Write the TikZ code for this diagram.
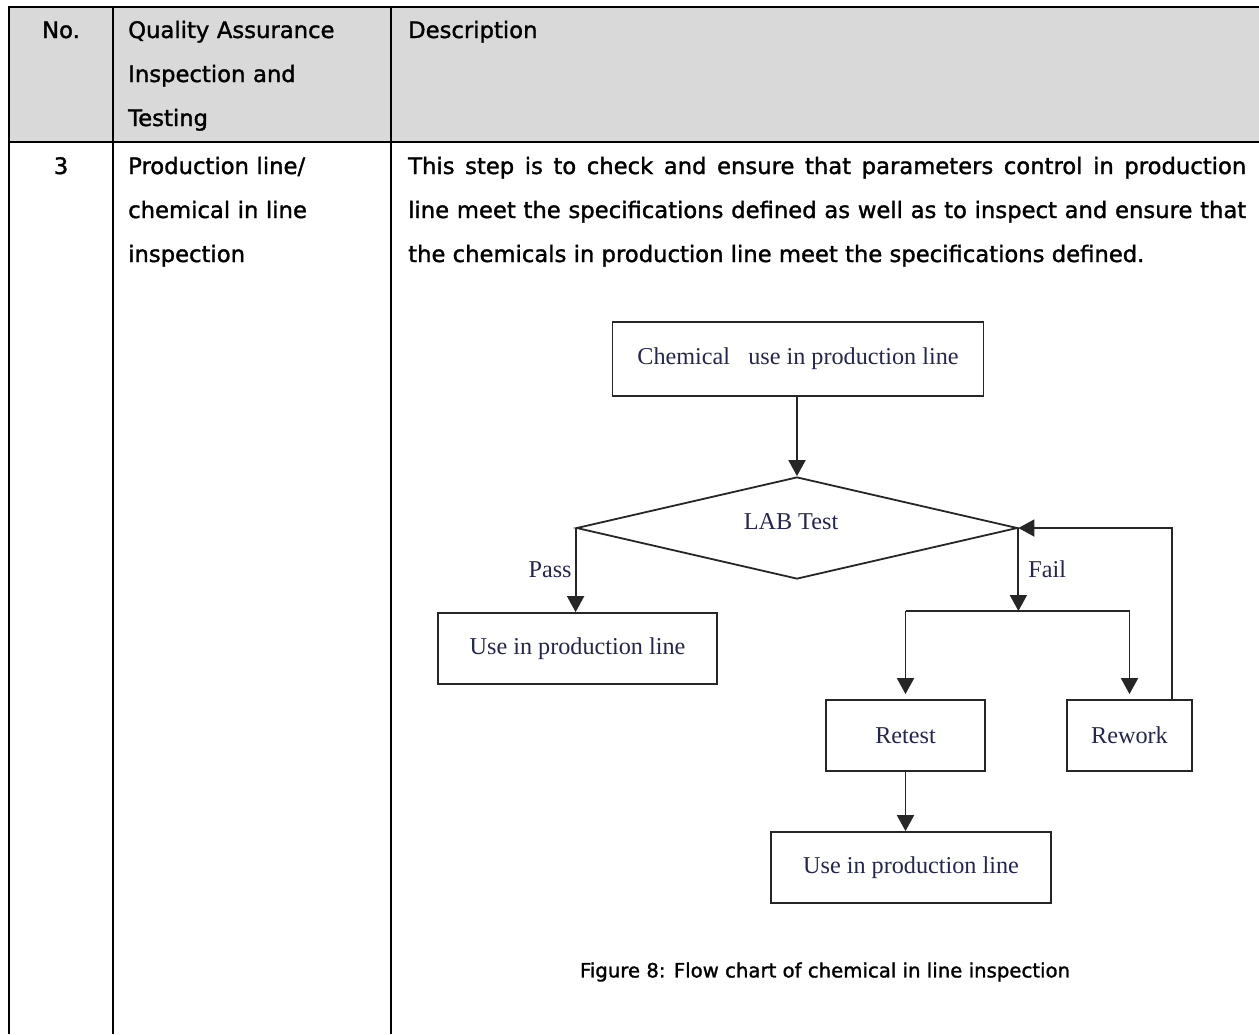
\documentclass[tikz,border=0pt]{standalone}
\usepackage{fontspec}
\setmainfont{DejaVu Sans}
\newfontfamily\tablefont{DejaVu Sans}[FakeBold=1.4]
\newfontfamily\chartfont{Liberation Serif}
\usetikzlibrary{shapes.geometric,arrows.meta,positioning}
\definecolor{headgray}{RGB}{217,217,217}
\definecolor{charttext}{RGB}{35,38,80}

\begin{document}
\begin{tikzpicture}[
        x=1pt, y=-1pt,
        rule/.style={line width=2.3pt, draw=black},
        cell/.style={
            inner sep=0pt, anchor=base west, align=left,
            font=\tablefont\fontsize{22.7}{44}\selectfont, text=black
        },
        chartbox/.style={
            rectangle, draw=black!85, line width=1.8pt, inner sep=0pt,
            minimum height=71pt, font=\chartfont\fontsize{24.2}{28}\selectfont,
            text=charttext
        },
        decision/.style={
            diamond, draw=black!85, line width=1.8pt, inner sep=0pt,
            shape aspect=4.3, minimum width=441pt, minimum height=102pt
        },
        branch/.style={font=\chartfont\fontsize{24.2}{28}\selectfont, text=charttext, inner sep=3pt},
        flow/.style={-{Triangle[length=16pt,width=17pt]}, line width=1.9pt, draw=black!85},
        splitline/.style={line width=1.9pt, draw=black!85}
    ]
    \useasboundingbox (0,0) rectangle (1259,1034);

    % Table frame
    \fill[headgray] (9,7) rectangle (1259,142);
    \draw[rule] (8,7) -- (1259,7);
    \draw[rule] (8,142) -- (1259,142);
    \foreach \x in {9,113,391}
        \draw[rule] (\x,7) -- (\x,1034);

    % Header row
    \node[cell, anchor=base] (nohead) at (61,38) {No.};
    \node[cell, text width=250pt] (qahead) at (128,38) {Quality Assurance\\Inspection and\\Testing};
    \node[cell] (deschead) at (408,38) {Description};

    % Row 3
    \node[cell, anchor=base] (num) at (61,174) {3};
    \node[cell, text width=250pt] (stage) at (128,174) {Production line/\\chemical in line\\inspection};
    \node[cell, text width=838pt, align=justify] (desc) at (408,174) {\hyphenpenalty=10000 This step is to check and ensure that parameters control in production\linebreak line meet the specifications defined as well as to inspect and ensure that\linebreak the chemicals in production line meet the specifications defined.};

    % Flow chart
    \node[chartbox, minimum width=371pt, minimum height=74pt] (chem) at (798,359) {Chemical\ \ \ use in production line};
    \node[decision] (lab) at (797,528) {};
    \node[branch, inner sep=0pt] (labtext) at (791,522) {LAB Test};
    \node[chartbox, minimum width=279pt] (passuse) at (577.5,648.5) {Use in production line};
    \node[chartbox, minimum width=159pt] (retest) at (905.5,735.5) {Retest};
    \node[chartbox, minimum width=125pt] (rework) at (1129.5,735.5) {Rework};
    \node[chartbox, minimum width=280pt] (retestuse) at (911,867.5) {Use in production line};
    \coordinate (failsplit) at ([yshift=-83pt]lab.east);

    % Arrows
    \draw[flow] (chem.south -| lab.north) -- (lab.north);
    \draw[flow] (lab.west) -- (lab.west |- passuse.north) node[branch, midway, left] {Pass};
    \draw[flow] (lab.east) -- (failsplit) node[branch, midway, right, xshift=6pt] {Fail};
    \draw[splitline] (failsplit -| retest.north) -- (failsplit -| rework.north);
    \draw[flow] (failsplit -| retest.north) -- ([yshift=5pt]retest.north);
    \draw[flow] (failsplit -| rework.north) -- ([yshift=5pt]rework.north);
    \draw[flow] ([xshift=-21pt]rework.north east) |- (lab.east);
    \draw[flow] (retest.south) -- (retest.south |- retestuse.north);

    % Caption
    \node[font=\tablefont\fontsize{19.7}{24}\selectfont] (caption) at (825,972) {Figure 8: Flow chart of chemical in line inspection};
\end{tikzpicture}
\end{document}
